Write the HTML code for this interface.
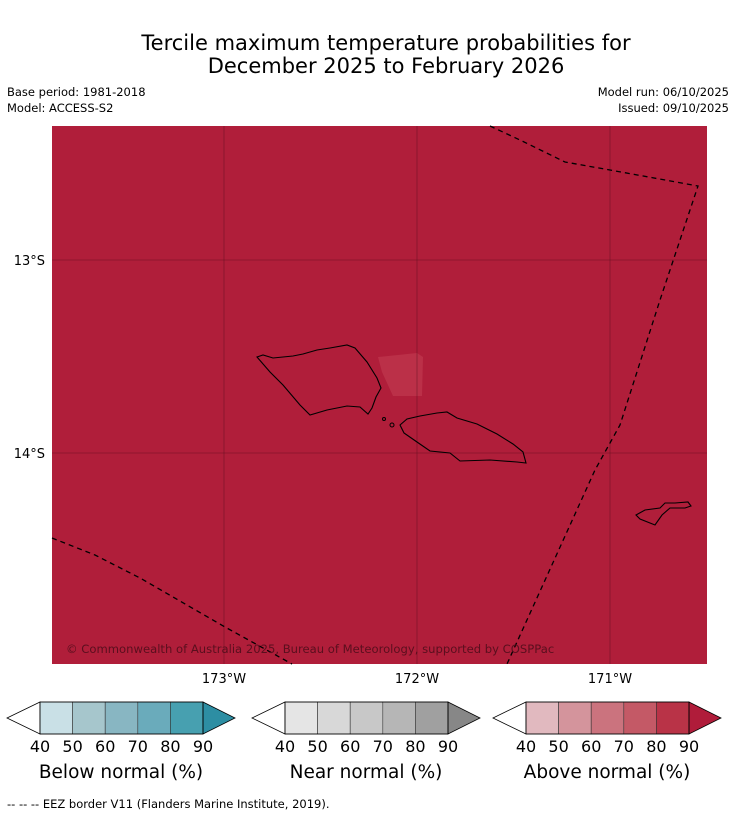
<!DOCTYPE html>
<html><head><meta charset="utf-8">
<style>
body{margin:0;background:#fff;font-family:"Liberation Sans","DejaVu Sans",sans-serif;}
#wrap{position:relative;width:736px;height:816px;overflow:hidden;}
</style></head>
<body><div id="wrap">
<svg id="svg" width="736" height="816" xmlns="http://www.w3.org/2000/svg" font-family="DejaVu Sans, Liberation Sans, sans-serif">
<text x="386" y="50" text-anchor="middle" font-size="21" fill="#000">Tercile maximum temperature probabilities for</text>
<text x="386" y="73" text-anchor="middle" font-size="21" fill="#000">December 2025 to February 2026</text>
<text x="7" y="96" font-size="11.5">Base period: 1981-2018</text>
<text x="7" y="112" font-size="11.5">Model: ACCESS-S2</text>
<text x="729" y="96" font-size="11.5" text-anchor="end">Model run: 06/10/2025</text>
<text x="729" y="112" font-size="11.5" text-anchor="end">Issued: 09/10/2025</text>
<g id="map"></g>
<g id="legends"></g>
<text x="7" y="808" font-size="11.5">--  --  -- EEZ border V11 (Flanders Marine Institute, 2019).</text>
</svg>
</div>
<script>
const gridLons = [-173, -172, -171];
const gridLonLabels = ["173°W", "172°W", "171°W"];
const gridLats = [-13, -14];
const gridLatLabels = ["13°S", "14°S"];
const levels = [40, 50, 60, 70, 80, 90];
const belowColors = ["#c9e0e6","#a6c6cc","#88b6c2","#6aabbb","#47a0b0"];
const nearColors = ["#e5e5e5","#d8d8d8","#c8c8c8","#b6b6b6","#a0a0a0"];
const aboveColors = ["#e1b9bf","#d4949c","#cb737e","#c45966","#b93347"];
const belowExt = "#2d8ea3", nearExt = "#878787", aboveExt = "#b01c3a";

const NS = "http://www.w3.org/2000/svg";
const svg = document.getElementById('svg');
const map = document.getElementById('map');
const legends = document.getElementById('legends');
const X0 = 52, X1 = 707, Y0 = 126, Y1 = 664;
const PX = 193;
function xLon(lon){ return 417 + (lon + 172) * PX; }
function yLat(lat){ return 260 + (-13 - lat) * PX; }
function mk(tag, attrs, parent){ const e = document.createElementNS(NS, tag); for (const k in attrs) e.setAttribute(k, attrs[k]); parent.appendChild(e); return e; }

let bg = mk('rect', {x:X0, y:Y0, width:X1-X0, height:Y1-Y0, fill:'#b01e3a'}, map);



let patch = mk('polygon', {points:'378,357 417,353 423,357 422,396 393,396 382,372', fill:'#bb3048'}, map);



gridLons.forEach((lon, i) => {
  const x = xLon(lon);
  let l = mk('line', {x1:x, y1:Y0, x2:x, y2:Y1, stroke:'#4a0c18', 'stroke-width':0.6, 'stroke-opacity':0.6}, map);
  
  
  let t = mk('text', {x:x, y:683, 'text-anchor':'middle', 'font-size':13}, map);
  t.textContent = gridLonLabels[i];
  
  
});
gridLats.forEach((lat, i) => {
  const y = yLat(lat);
  let l = mk('line', {x1:X0, y1:y, x2:X1, y2:y, stroke:'#4a0c18', 'stroke-width':0.6, 'stroke-opacity':0.6}, map);
  
  
  let t = mk('text', {x:45, y:y+5, 'text-anchor':'end', 'font-size':13}, map);
  t.textContent = gridLatLabels[i];
  
  
});

const islands = [
 ['savaii-island','257,357 263,355 273,358 283,357 293,356 303,354 317,350 330,348 347,345 355,348 367,362 377,378 381,388 376,397 372,408 368,414 360,407 347,406 327,410 310,415 300,405 283,385 270,372'],
 ['upolu-island','400,425 407,419 420,416 437,413 447,412 457,418 477,424 497,434 513,444 523,452 526,463 517,462 490,460 460,461 450,453 430,451 417,442 404,433'],
 ['tutuila-island','636,515 645,510 660,508 665,503 675,503 688,502 691,506 685,508 670,508 662,515 655,525 650,523 640,519']
];
islands.forEach(d => {
  let p = mk('polygon', {points:d[1], fill:'none', stroke:'#000', 'stroke-width':1.1}, map);
  
  
});
[[384,419,1.5],[392,425,2]].forEach(c => {
  let e = mk('circle', {cx:c[0], cy:c[1], r:c[2], fill:'none', stroke:'#000', 'stroke-width':1}, map);
  
  
});

const eez = [
 '490,126 520,140 565,162 610,170 698,186 660,300 620,425 595,470 507,664',
 '52,538 95,555 140,578 225,627 292,664'
];
eez.forEach(pts => {
  let p = mk('polyline', {points:pts, fill:'none', stroke:'#000', 'stroke-width':1.3, 'stroke-dasharray':'5,4'}, map);
  
  
});

let cr = mk('text', {x:66, y:653, 'font-size':11.6, fill:'#5a0f1e'}, map);
cr.textContent = '© Commonwealth of Australia 2025, Bureau of Meteorology, supported by COSPPac';



function legend(x0, colors, ext, label, name){
  const g = mk('g', {}, legends);
  
  
  const y0 = 702, h = 32, bw = 163 / colors.length, bx = x0 + 33;
  mk('polygon', {points:`${bx},${y0} ${x0},${y0+h/2} ${bx},${y0+h}`, fill:'#fff', stroke:'#000', 'stroke-width':0.8}, g);
  colors.forEach((c, i) => {
    let r = mk('rect', {x:bx + i*bw, y:y0, width:bw, height:h, fill:c, stroke:'#333', 'stroke-width':0.6}, g);
    
    
  });
  const ex = bx + 163;
  mk('polygon', {points:`${ex},${y0} ${ex+32},${y0+h/2} ${ex},${y0+h}`, fill:ext, stroke:'#000', 'stroke-width':0.8}, g);
  mk('rect', {x:bx, y:y0, width:163, height:h, fill:'none', stroke:'#000', 'stroke-width':0.8}, g);
  levels.forEach((v, i) => {
    let t = mk('text', {x:bx + i*bw, y:752, 'text-anchor':'middle', 'font-size':16}, g);
    t.textContent = v;
    
    
  });
  let t = mk('text', {x:bx + 81, y:778, 'text-anchor':'middle', 'font-size':18.5}, g);
  t.textContent = label;
  
  
}
legend(7, belowColors, belowExt, 'Below normal (%)', 'legend-below-normal');
legend(252, nearColors, nearExt, 'Near normal (%)', 'legend-near-normal');
legend(493, aboveColors, aboveExt, 'Above normal (%)', 'legend-above-normal');
</script>
</body></html>
